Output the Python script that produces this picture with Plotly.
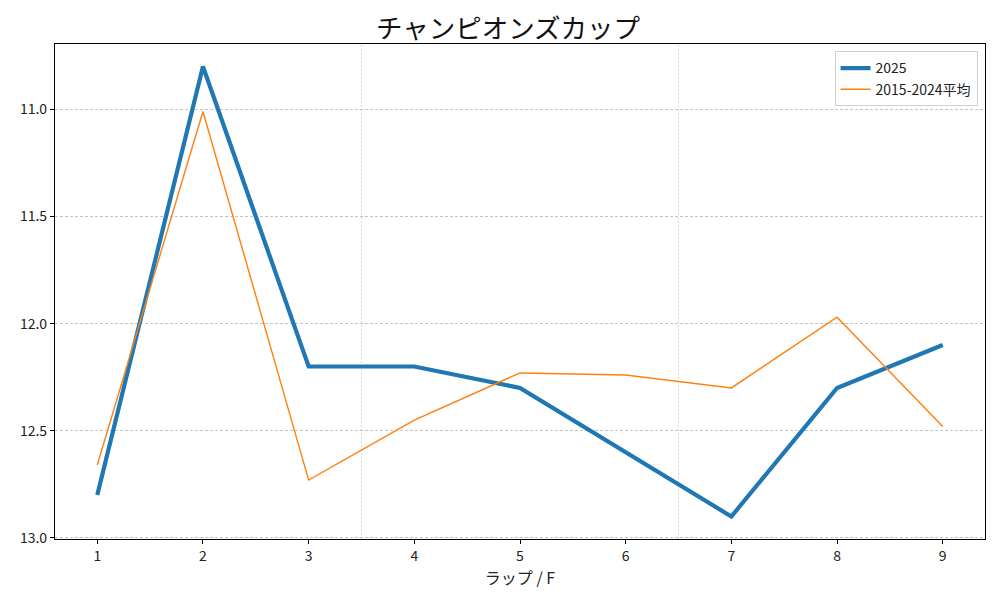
import plotly.graph_objects as go

laps = [1, 2, 3, 4, 5, 6, 7, 8, 9]
y2025 = [12.80, 10.80, 12.20, 12.20, 12.30, 12.60, 12.90, 12.30, 12.10]
yavg = [12.66, 11.01, 12.73, 12.45, 12.23, 12.24, 12.30, 11.97, 12.48]
yticks = [11.0, 11.5, 12.0, 12.5, 13.0]
yticklabels = ["11.0", "11.5", "12.0", "12.5", "13.0"]
separators = [3.5, 6.5]

FONT = "Noto Sans CJK JP"

fig = go.Figure()
fig.add_trace(go.Scatter(x=laps, y=y2025, mode="lines", name="2025",
                         line=dict(color="#1f77b4", width=4.2)))
fig.add_trace(go.Scatter(x=laps, y=yavg, mode="lines", name="2015-2024平均",
                         line=dict(color="#ff7f0e", width=1.4)))

for s in separators:
    fig.add_shape(type="line", xref="x", yref="paper", x0=s, x1=s, y0=0, y1=1,
                  line=dict(color="#cccccc", width=0.8, dash="2px,2px"), layer="below")

fig.update_layout(
    width=1000, height=600,
    margin=dict(l=47, r=23, t=36, b=69),
    paper_bgcolor="white", plot_bgcolor="white",
    font=dict(family=FONT, size=14, color="#222222"),
    title=dict(text="チャンピオンズカップ", x=0.5, xanchor="center", y=0.966, yanchor="middle",
               font=dict(family=FONT, size=26.5, color="#111111")),
    legend=dict(x=0.992, y=0.985, xanchor="right", yanchor="top",
                bgcolor="rgba(255,255,255,0.8)", bordercolor="#d0d0d0", borderwidth=1,
                font=dict(family=FONT, size=14), tracegroupgap=0),
    showlegend=True,
)
fig.update_xaxes(range=[0.6, 9.4], tickvals=laps, ticktext=[str(v) for v in laps],
                 showgrid=False, zeroline=False,
                 showline=True, linecolor="black", linewidth=1.2, mirror=True,
                 ticks="outside", ticklen=4, tickcolor="black",
                 tickfont=dict(size=14),
                 title=dict(text="ラップ / F", font=dict(family=FONT, size=16), standoff=2))
fig.update_yaxes(range=[13.005, 10.695], tickvals=yticks, ticktext=yticklabels,
                 showgrid=True, gridcolor="#c4c4c4", griddash="3px,2px", gridwidth=0.8,
                 zeroline=False,
                 showline=True, linecolor="black", linewidth=1.2, mirror=True,
                 ticks="outside", ticklen=4, tickcolor="black",
                 tickfont=dict(size=14))

fig.write_html("out.html")
